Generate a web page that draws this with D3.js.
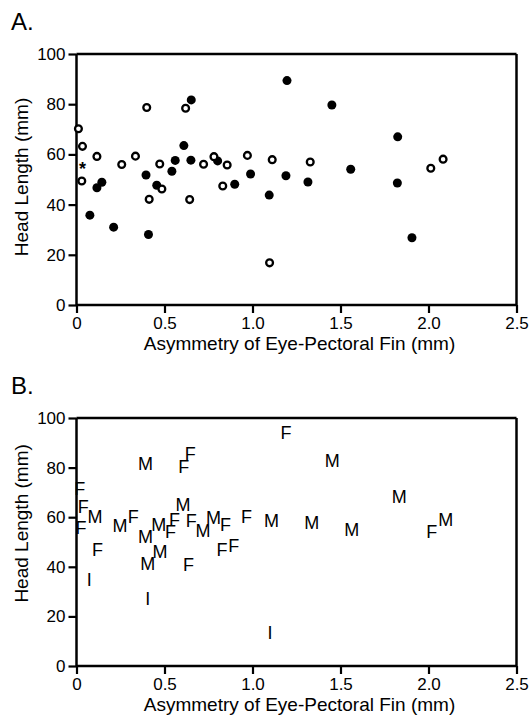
<!DOCTYPE html>
<html><head><meta charset="utf-8">
<script src="https://cdn.jsdelivr.net/npm/d3@7"></script>
<style>body{margin:0;background:#fff}svg{display:block}text{font-family:"Liberation Sans",Arial,sans-serif;fill:#000}</style>
</head><body>
<svg id="c" width="530" height="717"></svg>
<script>
// Panel A: filled circles
const filledX = [0.076,0.116,0.144,0.211,0.395,0.409,0.456,0.542,0.561,0.610,0.652,0.650,0.802,0.899,0.989,1.095,1.190,1.196,1.451,1.315,1.558,1.825,1.823,1.906];
const filledY = [35.8,46.7,48.9,31.0,51.8,28.1,47.7,53.3,57.6,63.5,81.7,57.7,57.4,48.1,52.2,43.8,51.5,89.4,79.7,49.0,54.1,67.0,48.6,26.8];
// Panel A: open circles
const openX = [0.011,0.034,0.116,0.030,0.257,0.335,0.399,0.413,0.473,0.485,0.620,0.643,0.722,0.781,0.856,0.831,0.971,1.112,1.097,1.328,2.013,2.083];
const openY = [70.2,63.2,59.2,49.4,56.0,59.3,78.7,42.1,56.2,46.2,78.4,42.0,56.1,59.1,55.8,47.4,59.6,57.9,16.8,57.0,54.5,58.1];
// Panel A: asterisk
const starX = [0.034];
const starY = [55.4];
// Panel B: letter markers
const letterL = ["F","M","F","F","F","F","M","F","F","I","M","F","M","M","F","F","M","F","M","M","F","F","M","M","M","F","F","F","I","I","M","M","M","M","F","M"];
const letterX = [1.190,0.392,0.646,0.610,0.019,0.038,0.105,0.025,0.120,0.072,0.247,0.323,0.392,0.468,0.557,0.534,0.605,0.652,0.719,0.779,0.846,0.966,1.108,0.475,0.405,0.637,0.827,0.894,0.405,1.099,1.453,1.834,1.336,1.564,2.018,2.098];
const letterY = [94.0,81.7,85.6,80.4,71.7,64.3,60.3,56.0,47.1,34.7,56.7,60.4,52.4,57.1,59.1,54.3,65.1,58.7,54.7,60.0,56.9,60.4,58.7,46.0,41.3,41.1,47.1,48.4,27.1,13.3,82.7,68.4,57.7,55.0,54.3,59.1];
// Axes
const xTicks = [0,0.5,1.0,1.5,2.0,2.5];
const xTickLabels = ["0","0.5","1.0","1.5","2.0","2.5"];
const yTicks = [0,20,40,60,80,100];
const panelLabels = ["A.","B."];
const xTitle = "Asymmetry of Eye-Pectoral Fin (mm)";
const yTitle = "Head Length (mm)";

const svg = d3.select("#c");
const x = d3.scaleLinear().domain([0,2.5]).range([76.5,516.5]);

function panel(top, bottom, label, yTitleCenterVal) {
  const y = d3.scaleLinear().domain([0,100]).range([bottom, top]);
  const g = svg.append("g");
  // frame
  g.append("line").attr("x1",x(0)).attr("x2",x(2.5)).attr("y1",top).attr("y2",top).attr("stroke","#000").attr("stroke-width",2.5);
  g.append("line").attr("x1",x(2.5)).attr("x2",x(2.5)).attr("y1",top).attr("y2",bottom).attr("stroke","#000").attr("stroke-width",2.5);
  const xa = g.append("g").attr("transform",`translate(0,${bottom})`)
    .call(d3.axisBottom(x).tickValues(xTicks).tickFormat((d,i)=>xTickLabels[i]).tickSize(8).tickPadding(4));
  const ya = g.append("g").attr("transform",`translate(${x(0)},0)`)
    .call(d3.axisLeft(y).tickValues(yTicks).tickSize(8).tickPadding(3));
  [xa,ya].forEach(a=>{
    a.select(".domain").attr("stroke","#000").attr("stroke-width",2.5);
    a.selectAll(".tick line").attr("stroke","#000").attr("stroke-width",2.2);
    a.selectAll(".tick text").style("font-size","17px").style("font-family","Liberation Sans, Arial, sans-serif").attr("fill","#000");
  });
  xa.select(".domain").attr("d",`M${x(0)},0H${x(2.5)}`);
  ya.select(".domain").attr("d",`M0,${top}V${bottom}`);
  g.append("text").attr("x",11).attr("y",top-24).style("font-size","24px").text(label);
  g.append("text").attr("x",(x(0)+x(2.5))/2+3).attr("y",bottom+45).attr("text-anchor","middle").style("font-size","19px").text(xTitle);
  g.append("text").attr("transform",`translate(28,${y(yTitleCenterVal)}) rotate(-90)`).attr("text-anchor","middle").style("font-size","19px").text(yTitle);
  return {g,y};
}

const A = panel(54, 305, panelLabels[0], 51);
A.g.selectAll("circle.f").data(filledX).join("circle").attr("class","f")
  .attr("cx",d=>x(d)).attr("cy",(d,i)=>A.y(filledY[i])).attr("r",4.5).attr("fill","#000");
A.g.selectAll("circle.o").data(openX).join("circle").attr("class","o")
  .attr("cx",d=>x(d)).attr("cy",(d,i)=>A.y(openY[i])).attr("r",3.4).attr("fill","#fff").attr("stroke","#000").attr("stroke-width",2.3);
A.g.selectAll("text.s").data(starX).join("text").attr("class","s")
  .attr("x",d=>x(d)).attr("y",(d,i)=>A.y(starY[i])+9).attr("text-anchor","middle").style("font-size","18px").style("font-weight","bold").text("*");

const B = panel(418, 666, panelLabels[1], 57.5);
B.g.selectAll("text.l").data(letterX).join("text").attr("class","l")
  .attr("x",d=>x(d)).attr("y",(d,i)=>B.y(letterY[i])).attr("dy","0.36em").attr("text-anchor","middle")
  .style("font-size","18px").text((d,i)=>letterL[i]);
</script>
</body></html>
